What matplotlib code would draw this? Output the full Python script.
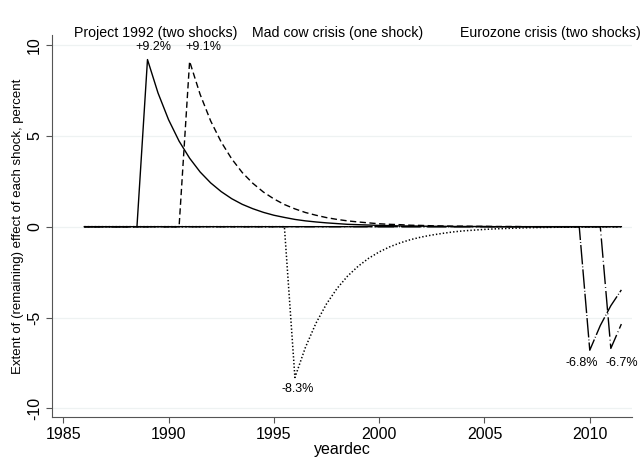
import matplotlib
matplotlib.use("Agg")
import matplotlib.pyplot as plt

plt.rcParams['font.family'] = ['Liberation Sans', 'DejaVu Sans']
plt.rcParams['lines.scale_dashes'] = False
plt.rcParams['axes.unicode_minus'] = False

# half-year steps, 1986.0 .. 2011.5
yeardec = [1986.0 + 0.5 * k for k in range(52)]

# Project 1992, first shock (peak 1989.0)
project_1 = [0.00, 0.00, 0.00, 0.00, 0.00, 0.00, 9.20, 7.36, 5.89, 4.71,
             3.77, 3.01, 2.41, 1.93, 1.54, 1.23, 0.99, 0.79, 0.63, 0.51,
             0.40, 0.32, 0.26, 0.21, 0.17, 0.13, 0.11, 0.09, 0.07, 0.06,
             0.04, 0.04, 0.03, 0.02, 0.02, 0.01, 0.01, 0.01, 0.01, 0.00,
             0.00, 0.00, 0.00, 0.00, 0.00, 0.00, 0.00, 0.00, 0.00, 0.00,
             0.00, 0.00]
# Project 1992, second shock (peak 1991.0)
project_2 = [0.00, 0.00, 0.00, 0.00, 0.00, 0.00, 0.00, 0.00, 0.00, 0.00,
             9.10, 7.28, 5.82, 4.66, 3.73, 2.98, 2.39, 1.91, 1.53, 1.22,
             0.98, 0.78, 0.63, 0.50, 0.40, 0.32, 0.26, 0.21, 0.16, 0.13,
             0.11, 0.08, 0.07, 0.05, 0.04, 0.03, 0.03, 0.02, 0.02, 0.01,
             0.01, 0.01, 0.00, 0.00, 0.00, 0.00, 0.00, 0.00, 0.00, 0.00,
             0.00, 0.00]
# Mad cow crisis (trough 1996.0)
mad_cow = [0.00, 0.00, 0.00, 0.00, 0.00, 0.00, 0.00, 0.00, 0.00, 0.00,
           0.00, 0.00, 0.00, 0.00, 0.00, 0.00, 0.00, 0.00, 0.00, 0.00,
           -8.30, -6.64, -5.31, -4.25, -3.40, -2.72, -2.18, -1.74, -1.39, -1.11,
           -0.89, -0.71, -0.57, -0.46, -0.37, -0.29, -0.23, -0.19, -0.15, -0.12,
           -0.10, -0.08, -0.06, -0.05, -0.04, -0.03, -0.03, -0.02, -0.02, -0.01,
           -0.01, -0.01]
# Eurozone crisis, first shock (trough 2010.0)
euro_1 = [0.00] * 48 + [-6.80, -5.44, -4.35, -3.48]
# Eurozone crisis, second shock (trough 2011.0)
euro_2 = [0.00] * 50 + [-6.70, -5.36]

peak_labels = ["+9.2%", "+9.1%", "-8.3%", "-6.8%", "-6.7%"]
label_x = [1989.26, 1991.67, 1996.15, 2009.63, 2011.54]
label_y = [9.87, 9.87, -8.93, -7.48, -7.48]

titles = ["Project 1992 (two shocks)", "Mad cow crisis (one shock)",
          "Eurozone crisis (two shocks)"]
title_x = [1989.39, 1998.03, 2012.42]
title_ha = ['center', 'center', 'right']

ytick_vals = [-10, -5, 0, 5, 10]
ytick_text = ["-10", "-5", "0", "5", "10"]
xtick_vals = [1985, 1990, 1995, 2000, 2005, 2010]

fig = plt.figure(figsize=(6.44, 4.61), dpi=100)
ax = fig.add_axes([0.0812, 0.0961, 0.9, 0.8279])

lw = 1.0
ax.plot(yeardec, project_1, color='black', lw=lw, linestyle='-')
ax.plot(yeardec, project_2, color='black', lw=lw, linestyle=(0, (4.5, 2.5)))
ax.plot(yeardec, mad_cow, color='black', lw=1.1, linestyle=(0, (1.0, 1.5)))
ax.plot(yeardec, euro_1, color='black', lw=lw, linestyle=(0, (14, 1.5, 0.6, 1.5)))
ax.plot(yeardec, euro_2, color='black', lw=lw, linestyle=(0, (14, 2.2, 0.6, 2.2)))

for txt, x, y in zip(peak_labels, label_x, label_y):
    ax.text(x, y, txt, ha='center', va='center', fontsize=9)

for txt, x, ha in zip(titles, title_x, title_ha):
    ax.text(x, 10.66, txt, ha=ha, va='center', fontsize=10.2,
            clip_on=False)

ax.set_xlim(1984.48, 2012.0)
ax.set_ylim(-10.46, 10.55)
ax.set_xticks(xtick_vals)
ax.set_yticks(ytick_vals)
ax.set_yticklabels(ytick_text)
ax.tick_params(axis='x', labelsize=11.5, length=4.5, color='#555555',
               width=0.8, pad=3)
ax.tick_params(axis='y', labelsize=11.5, length=4.5, color='#555555',
               width=0.8, pad=3, labelrotation=90)
for lab in ax.get_yticklabels():
    lab.set_va('center')

ax.yaxis.grid(True, color='#eef2f2', lw=0.9)
ax.set_axisbelow(True)
for side in ['top', 'right']:
    ax.spines[side].set_visible(False)
for side in ['left', 'bottom']:
    ax.spines[side].set_color('#555555')
    ax.spines[side].set_linewidth(0.8)

ax.set_xlabel("yeardec", fontsize=11.5, labelpad=0)
ax.set_ylabel("Extent of (remaining) effect of each shock, percent",
              fontsize=9.5, labelpad=2)

fig.savefig("out.png", dpi=100)
